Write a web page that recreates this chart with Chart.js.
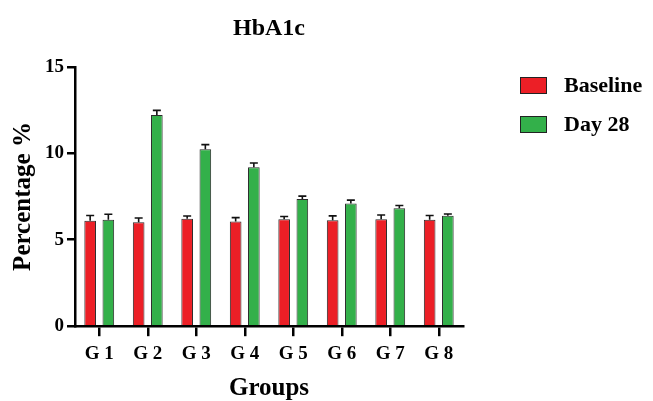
<!DOCTYPE html>
<html>
<head>
<meta charset="utf-8">
<script src="https://cdn.jsdelivr.net/npm/chart.js@4/dist/chart.umd.min.js"></script>
<style>
  html, body { margin: 0; padding: 0; background: #fff; }
  #wrap { width: 653px; height: 401px; }
</style>
</head>
<body>
<div id="wrap"><canvas id="hba1cChart"></canvas></div>
<script>
// Data
const groups = ['G 1', 'G 2', 'G 3', 'G 4', 'G 5', 'G 6', 'G 7', 'G 8'];
const baseline = [6.10, 6.01, 6.22, 6.05, 6.18, 6.12, 6.18, 6.16];
const baselineErr = [0.30, 0.25, 0.15, 0.23, 0.16, 0.26, 0.25, 0.24];
const day28 = [6.16, 12.21, 10.23, 9.19, 7.36, 7.09, 6.82, 6.38];
const day28Err = [0.31, 0.27, 0.27, 0.25, 0.16, 0.20, 0.16, 0.11];
const yTicks = [0, 5, 10, 15];

const serif = "'Liberation Serif', 'Times New Roman', serif";
Chart.defaults.color = '#000';

// upper error whiskers with a small cap
const errorBars = {
	id: 'errorBars',
	afterDatasetsDraw(chart) {
		const ctx = chart.ctx;
		const yScale = chart.scales.y;
		const errs = [baselineErr, day28Err];
		ctx.save();
		ctx.strokeStyle = '#111';
		ctx.lineWidth = 1.6;
		chart.data.datasets.forEach((ds, i) => {
			chart.getDatasetMeta(i).data.forEach((bar, j) => {
				const top = yScale.getPixelForValue(ds.data[j] + errs[i][j]);
				ctx.beginPath();
				ctx.moveTo(bar.x, bar.y);
				ctx.lineTo(bar.x, top);
				ctx.moveTo(bar.x - 4, top);
				ctx.lineTo(bar.x + 4, top);
				ctx.stroke();
			});
		});
		ctx.restore();
	}
};

// legend to the right of the plot
const sideLegend = {
	id: 'sideLegend',
	afterDraw(chart) {
		const ctx = chart.ctx;
		ctx.save();
		ctx.font = 'bold 22px ' + serif;
		ctx.textBaseline = 'middle';
		chart.data.datasets.forEach((ds, i) => {
			const y = 77 + i * 39;
			ctx.fillStyle = ds.backgroundColor;
			ctx.fillRect(520, y, 27, 17);
			ctx.strokeStyle = '#222';
			ctx.lineWidth = 1;
			ctx.strokeRect(520.5, y + 0.5, 26, 16);
			ctx.fillStyle = '#000';
			ctx.fillText(ds.label, 564, y + 9);
		});
		ctx.restore();
	}
};

new Chart(document.getElementById('hba1cChart'), {
	type: 'bar',
	data: {
		labels: groups,
		datasets: [
			{
				label: 'Baseline',
				data: baseline,
				backgroundColor: '#ec1f26',
				borderColor: '#2a2a2a',
				borderWidth: 1,
			},
			{
				label: 'Day 28',
				data: day28,
				backgroundColor: '#33b04a',
				borderColor: '#2a2a2a',
				borderWidth: 1,
			},
		],
	},
	options: {
		responsive: true,
		maintainAspectRatio: false,
		animation: false,
		categoryPercentage: 0.75,
		barPercentage: 0.64,
		layout: { padding: { left: 9, right: 190, top: 0, bottom: 0 } },
		plugins: {
			legend: { display: false },
			tooltip: { enabled: false },
			title: {
				display: true,
				text: 'HbA1c',
				fullSize: false,
				font: { family: serif, size: 24, weight: 'bold' },
				padding: { top: 14, bottom: 24 },
			},
		},
		scales: {
			x: {
				grid: {
					offset: false,
					drawOnChartArea: false,
					color: '#000',
					lineWidth: 2.5,
					tickLength: 10,
				},
				border: { color: '#000', width: 2.5 },
				ticks: {
					font: { family: serif, size: 19, weight: 'bold' },
					padding: 6,
				},
				title: {
					display: true,
					text: 'Groups',
					font: { family: serif, size: 25, weight: 'bold', lineHeight: 1 },
					padding: { top: 5, bottom: 0 },
				},
			},
			y: {
				min: 0,
				max: 15,
				afterBuildTicks: (axis) => {
					axis.ticks = yTicks.map((v) => ({ value: v }));
				},
				grid: {
					drawOnChartArea: false,
					color: '#000',
					lineWidth: 2.5,
					tickLength: 8,
				},
				border: { color: '#000', width: 2.5 },
				ticks: {
					font: { family: serif, size: 19, weight: 'bold' },
					padding: 3,
				},
				title: {
					display: true,
					text: 'Percentage %',
					font: { family: serif, size: 25, weight: 'bold' },
					padding: { top: 0, bottom: 3 },
				},
			},
		},
	},
	plugins: [errorBars, sideLegend],
});
</script>
</body>
</html>
